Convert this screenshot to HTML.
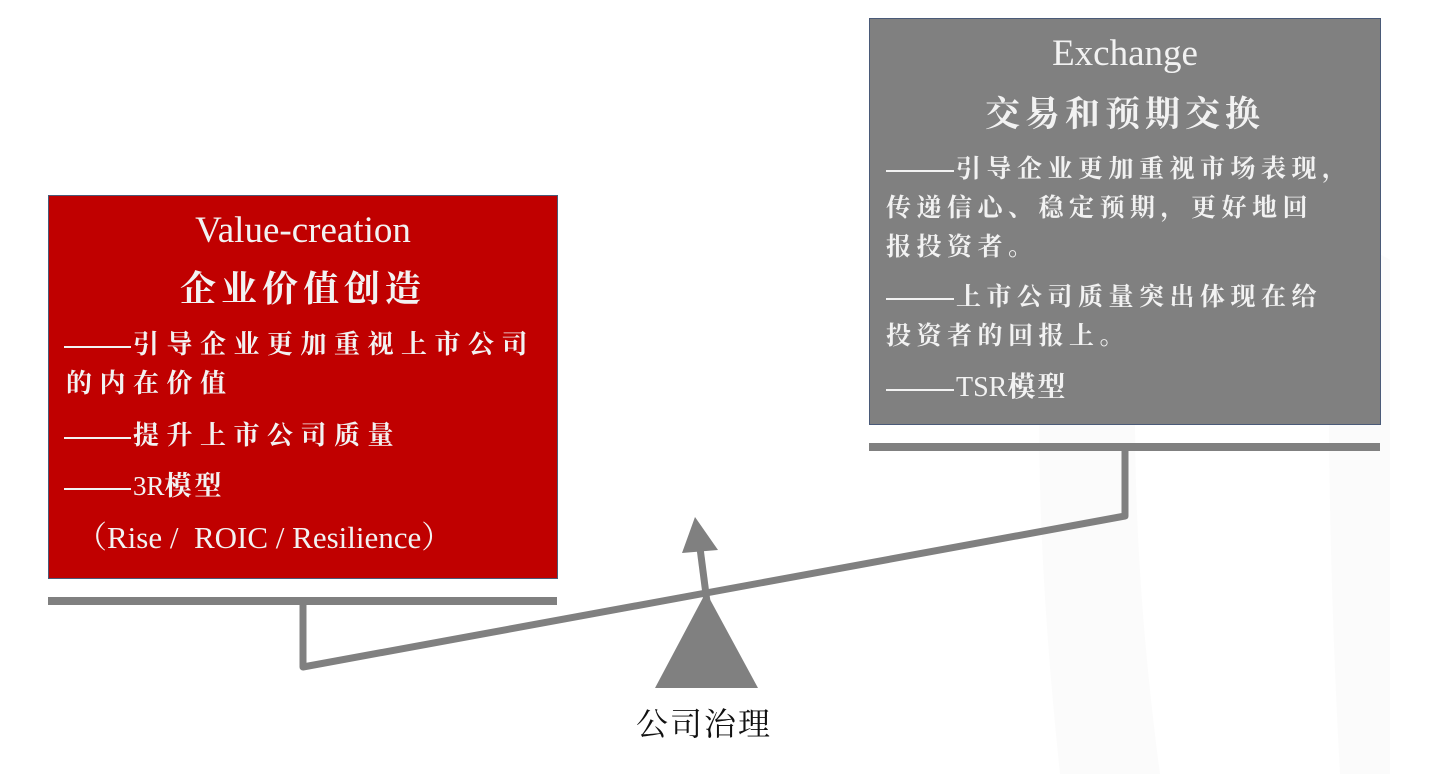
<!DOCTYPE html>
<html><head><meta charset="utf-8"><style>
body{margin:0;width:1436px;height:774px;background:#fff;position:relative;overflow:hidden;font-family:"Liberation Serif","Noto Serif CJK SC",serif}
.t{position:absolute;white-space:nowrap;color:#f2f2f2;line-height:1}
.box{position:absolute;box-sizing:border-box;border:1.5px solid #4a5a78}
.d{display:inline-block;height:2px;background:#f2f2f2;vertical-align:middle;margin-right:2px}
</style></head><body>
<svg width="1436" height="774" style="position:absolute;left:0;top:0">
<path d="M1080 80 Q1010 300 1060 774 L1160 774 Q1110 400 1160 80 Z" fill="#fbfbfb"/>
<path d="M1330 250 Q1360 240 1390 260 L1390 774 L1340 774 Q1325 500 1330 250Z" fill="#fbfbfb"/>
<rect x="48" y="597" width="509" height="8" fill="#808080"/>
<rect x="869" y="443" width="511" height="8" fill="#808080"/>
<polyline points="303,604 303,667 1125,516 1125,451" fill="none" stroke="#808080" stroke-width="7" stroke-linejoin="round"/>
<polygon points="706,592 655,688 758,688" fill="#808080"/>
<line x1="707" y1="602" x2="700" y2="548" stroke="#808080" stroke-width="7"/>
<polygon points="695,517 682,553 718,550" fill="#808080"/>
</svg>
<div class="box" style="left:48px;top:195px;width:510px;height:384px;background:#c00000"></div>
<div class="box" style="left:869px;top:18px;width:512px;height:407px;background:#808080"></div>

<div class="t" style="left:48px;width:510px;text-align:center;top:212px;font-size:37px">Value-creation</div>
<div class="t" style="left:48px;width:510px;text-align:center;top:271px;font-size:36px;font-weight:bold;letter-spacing:5px">企业价值创造</div>
<div class="t" style="left:64px;top:332px;font-size:26px;letter-spacing:7.5px;font-weight:bold"><span class="d" style="width:67px"></span>引导企业更加重视上市公司</div>
<div class="t" style="left:66px;top:371px;font-size:26px;letter-spacing:7.5px;font-weight:bold">的内在价值</div>
<div class="t" style="left:64px;top:423px;font-size:26px;letter-spacing:7.5px;font-weight:bold"><span class="d" style="width:67px"></span>提升上市公司质量</div>
<div class="t" style="left:64px;top:473px;font-size:27px"><span class="d" style="width:67px"></span>3R<b style="letter-spacing:3px">模型</b></div>
<div class="t" style="left:76px;top:522px;font-size:31px">（Rise /&nbsp; ROIC / Resilience）</div>

<div class="t" style="left:869px;width:512px;text-align:center;top:35px;font-size:37px">Exchange</div>
<div class="t" style="left:869px;width:512px;text-align:center;top:97px;font-size:35px;font-weight:bold;letter-spacing:5px">交易和预期交换</div>
<div class="t" style="left:886px;top:157px;font-size:25px;letter-spacing:5.5px;font-weight:bold"><span class="d" style="width:68px"></span>引导企业更加重视市场表现，</div>
<div class="t" style="left:886px;top:196px;font-size:25px;letter-spacing:5.5px;font-weight:bold">传递信心、稳定预期，更好地回</div>
<div class="t" style="left:886px;top:235px;font-size:25px;letter-spacing:5.5px;font-weight:bold">报投资者。</div>
<div class="t" style="left:886px;top:285px;font-size:25px;letter-spacing:5.5px;font-weight:bold"><span class="d" style="width:68px"></span>上市公司质量突出体现在给</div>
<div class="t" style="left:886px;top:324px;font-size:25px;letter-spacing:5.5px;font-weight:bold">投资者的回报上。</div>
<div class="t" style="left:886px;top:374px;font-size:28px"><span class="d" style="width:68px"></span>TSR<b style="letter-spacing:2px">模型</b></div>

<div class="t" style="left:636px;top:708px;font-size:32px;color:#111;letter-spacing:2px">公司治理</div>
</body></html>
